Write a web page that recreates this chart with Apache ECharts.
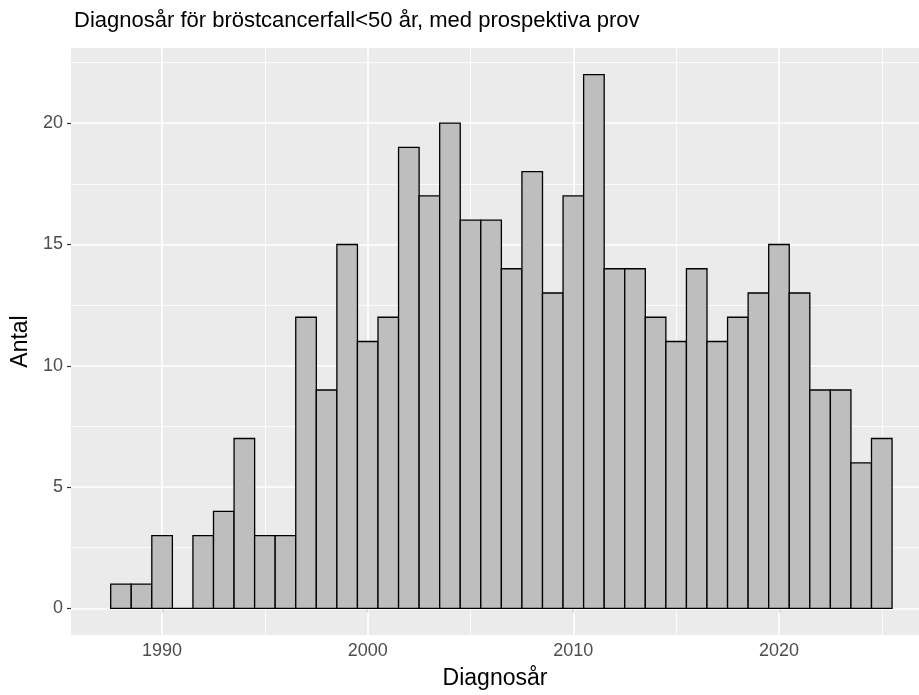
<!DOCTYPE html>
<html>
<head>
<meta charset="utf-8">
<script src="https://cdn.jsdelivr.net/npm/echarts@6/dist/echarts.min.js"></script>
<style>
html,body{margin:0;padding:0;background:#fff;}
#chart{width:919px;height:695px;}
</style>
</head>
<body>
<div id="chart"></div>
<script>
// Data
var years = [1988,1989,1990,1991,1992,1993,1994,1995,1996,1997,1998,1999,2000,2001,2002,2003,2004,2005,2006,2007,2008,2009,2010,2011,2012,2013,2014,2015,2016,2017,2018,2019,2020,2021,2022,2023,2024,2025];
var counts = [1,1,3,0,3,4,7,3,3,12,9,15,11,12,19,17,20,16,16,14,18,13,17,22,14,14,12,11,14,11,12,13,15,13,9,9,6,7];
var xTickValues = [1990,2000,2010,2020];
var xMinorValues = [1985,1995,2005,2015,2025];
var yTickValues = [0,5,10,15,20];
var yMinorValues = [2.5,7.5,12.5,17.5,22.5];
var titleText = 'Diagnosår för bröstcancerfall<50 år, med prospektiva prov';
var xName = 'Diagnosår';
var yName = 'Antal';

var binWidth = 1.0;
var barData = years.map(function(y,i){ return [y, counts[i]]; });

var gridLines = [];
xTickValues.forEach(function(v){ gridLines.push({xAxis:v, lineStyle:{color:'#ffffff', width:1.6, type:'solid'}}); });
xMinorValues.forEach(function(v){ gridLines.push({xAxis:v, lineStyle:{color:'#ffffff', width:0.8, type:'solid'}}); });
yTickValues.forEach(function(v){ gridLines.push({yAxis:v, lineStyle:{color:'#ffffff', width:1.6, type:'solid'}}); });
yMinorValues.forEach(function(v){ gridLines.push({yAxis:v, lineStyle:{color:'#ffffff', width:0.8, type:'solid'}}); });

var chart = echarts.init(document.getElementById('chart'), null, {renderer:'canvas'});
var font = 'Liberation Sans, Arial, sans-serif';
chart.setOption({
  animation:false,
  backgroundColor:'#ffffff',
  title:{
    text:titleText, left:69, top:5,
    textStyle:{fontFamily:font, fontSize:22, fontWeight:'normal', color:'#000000'}
  },
  grid:{left:71, right:0, top:48, bottom:58, show:true, backgroundColor:'#EBEBEB', borderWidth:0},
  xAxis:{
    type:'value', min:1985.57, max:2026.81,
    name:xName, nameLocation:'middle', nameGap:32,
    nameTextStyle:{fontFamily:font, fontSize:23, color:'#000000'},
    axisLine:{show:false},
    axisTick:{show:true, length:4, inside:false, customValues:xTickValues, lineStyle:{color:'#333333', width:1.2}},
    axisLabel:{show:true, customValues:xTickValues, margin:7, fontFamily:font, fontSize:18, color:'#4D4D4D',
      formatter:function(v){ return String(v); }},
    splitLine:{show:false}
  },
  yAxis:{
    type:'value', min:-1.1, max:23.1,
    name:yName, nameLocation:'middle', nameGap:36, nameRotate:90,
    nameTextStyle:{fontFamily:font, fontSize:23, color:'#000000'},
    axisLine:{show:false},
    axisTick:{show:true, length:4, inside:false, customValues:yTickValues, lineStyle:{color:'#333333', width:1.2}},
    axisLabel:{show:true, customValues:yTickValues, margin:8, fontFamily:font, fontSize:18, color:'#4D4D4D',
      formatter:function(v){ return String(v); }},
    splitLine:{show:false}
  },
  series:[
    {
      type:'line', data:[], silent:true, z:1,
      markLine:{silent:true, symbol:['none','none'], label:{show:false}, z:1, animation:false, data:gridLines}
    },
    {
      type:'custom', z:3, data:barData,
      renderItem:function(params, api){
        var x = api.value(0), y = api.value(1);
        var p1 = api.coord([x - binWidth/2, y]);
        var p2 = api.coord([x + binWidth/2, 0]);
        return {
          type:'rect',
          shape:{x:p1[0], y:p1[1], width:p2[0]-p1[0], height:p2[1]-p1[1]},
          style:{fill:'#BEBEBE', stroke:'#000000', lineWidth:1.3}
        };
      }
    }
  ]
});
</script>
</body>
</html>
